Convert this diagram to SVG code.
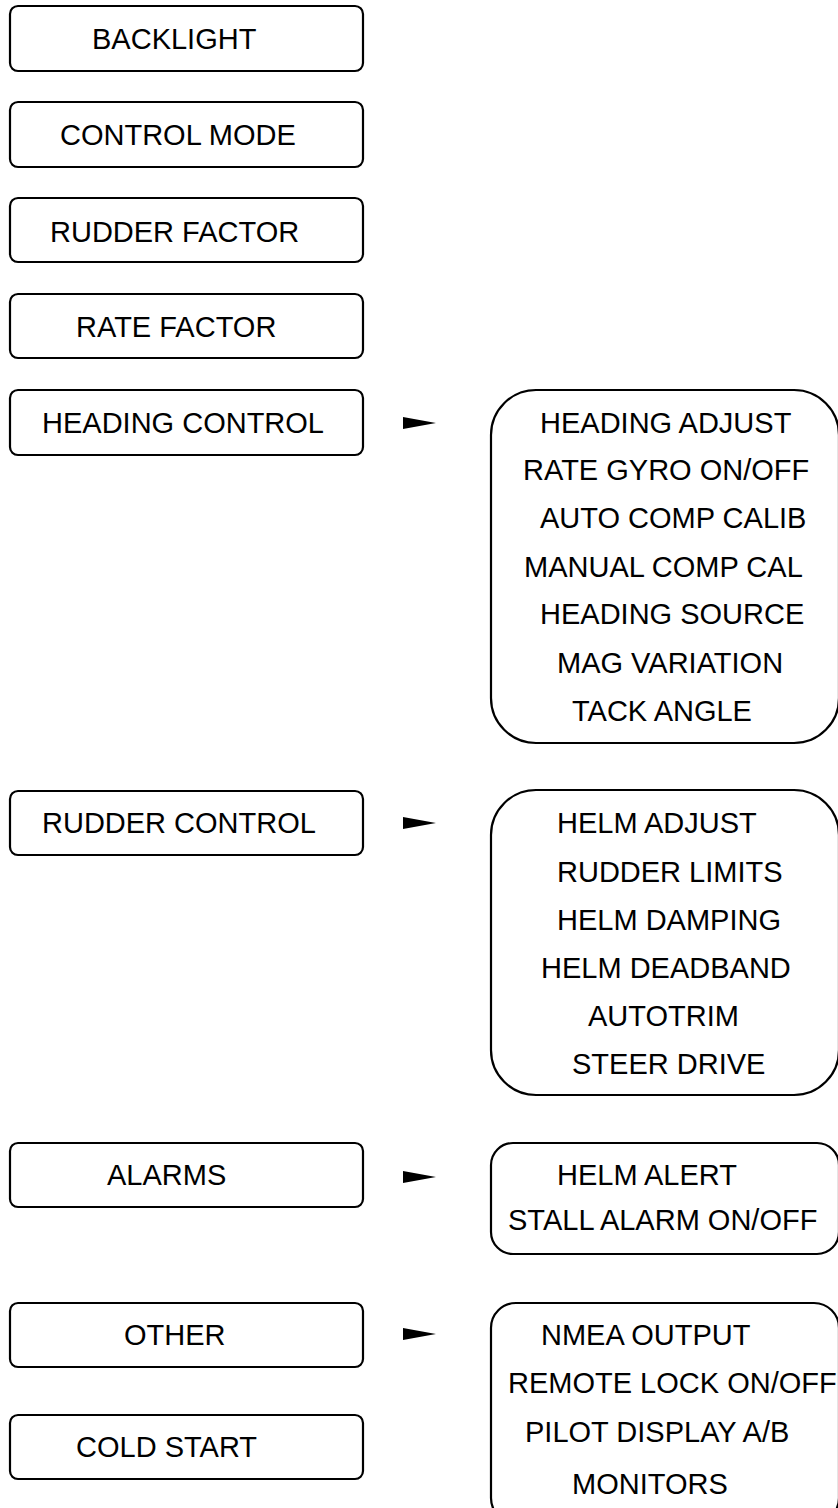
<svg xmlns="http://www.w3.org/2000/svg" width="838" height="1508" viewBox="0 0 838 1508">
<style>
.b{fill:#fff;stroke:#000;stroke-width:2.2}
.t{font-family:"Liberation Sans",Arial,sans-serif;font-size:29px;fill:#000}
.a{fill:#000}
</style>
<rect width="838" height="1508" fill="#fff"/>
<g id="backlight"><rect class="b" x="10" y="6" width="353" height="65" rx="8"/><text class="t" x="92" y="49">BACKLIGHT</text></g>
<g id="control-mode"><rect class="b" x="10" y="102" width="353" height="65" rx="8"/><text class="t" x="60" y="145">CONTROL MODE</text></g>
<g id="rudder-factor"><rect class="b" x="10" y="198" width="353" height="64" rx="8"/><text class="t" x="50" y="242">RUDDER FACTOR</text></g>
<g id="rate-factor"><rect class="b" x="10" y="294" width="353" height="64" rx="8"/><text class="t" x="76" y="337">RATE FACTOR</text></g>
<g id="heading-control"><rect class="b" x="10" y="390" width="353" height="65" rx="8"/><text class="t" x="42" y="433">HEADING CONTROL</text></g>
<g id="rudder-control"><rect class="b" x="10" y="791" width="353" height="64" rx="8"/><text class="t" x="42" y="833">RUDDER CONTROL</text></g>
<g id="alarms"><rect class="b" x="10" y="1143" width="353" height="64" rx="8"/><text class="t" x="107" y="1185">ALARMS</text></g>
<g id="other"><rect class="b" x="10" y="1303" width="353" height="64" rx="8"/><text class="t" x="124" y="1345">OTHER</text></g>
<g id="cold-start"><rect class="b" x="10" y="1415" width="353" height="64" rx="8"/><text class="t" x="76" y="1457">COLD START</text></g>
<g id="connectors">
<polygon class="a" points="403,417 436,423 403,429"/>
<polygon class="a" points="403,817 436,823 403,829"/>
<polygon class="a" points="403,1171 436,1177 403,1183"/>
<polygon class="a" points="403,1328 436,1334 403,1340"/>
</g>
<g id="heading-menu"><rect class="b" x="491" y="390" width="348" height="353" rx="45"/>
<text class="t" x="540" y="433">HEADING ADJUST</text>
<text class="t" x="523" y="480">RATE GYRO ON/OFF</text>
<text class="t" x="540" y="528">AUTO COMP CALIB</text>
<text class="t" x="524" y="577">MANUAL COMP CAL</text>
<text class="t" x="540" y="624">HEADING SOURCE</text>
<text class="t" x="557" y="673">MAG VARIATION</text>
<text class="t" x="572" y="721">TACK ANGLE</text>
</g>
<g id="rudder-menu"><rect class="b" x="491" y="790" width="348" height="305" rx="45"/>
<text class="t" x="557" y="833">HELM ADJUST</text>
<text class="t" x="557" y="882">RUDDER LIMITS</text>
<text class="t" x="557" y="930">HELM DAMPING</text>
<text class="t" x="541" y="978">HELM DEADBAND</text>
<text class="t" x="588" y="1026">AUTOTRIM</text>
<text class="t" x="572" y="1074">STEER DRIVE</text>
</g>
<g id="alarms-menu"><rect class="b" x="491" y="1143" width="348" height="111" rx="22"/>
<text class="t" x="557" y="1185">HELM ALERT</text>
<text class="t" x="508" y="1230">STALL ALARM ON/OFF</text>
</g>
<g id="other-menu"><rect class="b" x="491" y="1303" width="348" height="220" rx="25"/>
<text class="t" x="541" y="1345">NMEA OUTPUT</text>
<text class="t" x="508" y="1393">REMOTE LOCK ON/OFF</text>
<text class="t" x="525" y="1442">PILOT DISPLAY A/B</text>
<text class="t" x="572" y="1494">MONITORS</text>
</g>
</svg>
